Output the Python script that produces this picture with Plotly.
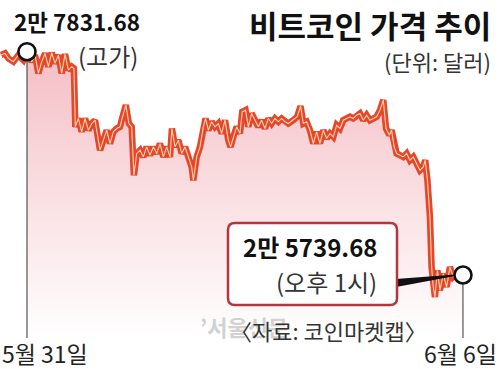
import plotly.graph_objects as go

# Hours relative to 5/31 (marker), bitcoin price in USD
hours = [-9.3, -7.9, -6.7, -4.9, -3.1, -1.3, 0.0,
         1.7, 2.9, 4.1, 5.3, 6.5, 7.7, 8.9, 10.1, 11.3, 12.5, 13.7, 14.9, 16.1, 16.9, 17.4,
         18.5, 19.7, 20.9, 22.1, 23.3, 24.5, 25.3, 26.3, 27.5, 28.7, 29.9, 31.1, 32.3, 33.5, 34.4, 35.6, 36.7, 37.7, 38.5,
         39.5, 40.7, 41.9, 43.1, 44.3, 45.5, 46.7, 47.9, 49.1, 50.3, 51.5, 52.2, 53.3, 54.5, 55.7, 56.9, 58.1, 59.3, 59.9,
         61.1, 62.3, 63.5, 64.3, 65.3, 66.5, 67.7, 68.9, 70.1, 71.3, 72.5, 73.3, 74.3, 75.5, 76.7, 77.5, 78.7, 79.7, 80.9,
         82.1, 83.3, 84.5, 85.7, 86.9, 88.1, 89.3, 90.5, 91.7, 92.9, 94.1, 95.9, 97.3, 98.5, 99.5, 100.7, 101.9, 103.1,
         104.3, 105.5, 106.7, 107.9, 109.1, 110.3, 111.5, 112.7, 113.9, 115.1, 116.3, 117.5, 118.7, 119.9, 121.1, 122.3,
         123.5, 124.7, 125.9, 127.1, 128.3, 129.3, 130.5, 131.3, 132.2, 133.1, 134.3, 135.5, 136.7, 137.9, 139.1, 140.3,
         141.5, 142.7, 143.4, 144.2, 144.8, 145.1, 145.7, 146.3, 146.9, 147.8, 148.7, 149.9, 151.1, 152.3, 153.5, 155.0, 157.0]
prices = [27800, 27816, 27769, 27738, 27800, 27753, 27831.68,
          27738, 27800, 27628, 27738, 27816, 27691, 27822, 27722, 27800, 27628, 27809, 27659, 27691, 27675, 27128,
          27206, 27081, 27206, 27096, 27159, 27190, 27065, 26909, 27003, 27096, 26971, 27081, 27112, 27128, 27222, 27331, 27159, 27128, 26674,
          26878, 26909, 26846, 26940, 26862, 26940, 26878, 26971, 26846, 26940, 26846, 27112, 26940, 27003, 26878, 26940, 26846, 26752, 26627,
          26846, 26940, 27128, 27206, 27096, 27175, 27128, 27159, 27065, 27190, 27003, 26940, 27034, 27128, 27065, 27268, 27284, 27128, 27253,
          27190, 27128, 27190, 27112, 27206, 27159, 27206, 27175, 27206, 27175, 27159, 27190, 27222, 27322, 27159, 27175, 27096, 26971,
          27081, 26971, 27096, 27018, 27065, 27034, 27143, 27112, 27190, 27206, 27222, 27206, 27237, 27253, 27190, 27237,
          27190, 27206, 27222, 27284, 27378, 27112, 27050, 27096, 26940, 26878, 26862, 26846, 26878, 26815, 26846, 26784,
          26721, 26752, 26815, 26627, 26440, 26283, 25814, 25627, 25533, 25783, 25596, 25752, 25627, 25814, 25721, 25752, 25739.68]

high_label = "2만 7831.68"
high_note = "(고가)"
last_label = "2만 5739.68"
last_note = "(오후 1시)"
title = "비트코인 가격 추이"
unit = "(단위: 달러)"
source = "〈자료: 코인마켓캡〉"
watermark = "’서울신문"
start_label = "5월 31일"
end_label = "6월 6일"

W, H = 500, 369
X_RANGE = [-9.72, 170.33]
Y_RANGE = [24859, 28316]
FONT = "Noto Sans CJK KR"


def X(p):
    return p / W


def Y(p):
    return 1 - p / H


def rounded_rect(x0, y0, x1, y1, r):
    pts = [
        ("M", [(x0 + r, y0)]),
        ("L", [(x1 - r, y0)]),
        ("Q", [(x1, y0), (x1, y0 + r)]),
        ("L", [(x1, y1 - r)]),
        ("Q", [(x1, y1), (x1 - r, y1)]),
        ("L", [(x0 + r, y1)]),
        ("Q", [(x0, y1), (x0, y1 - r)]),
        ("L", [(x0, y0 + r)]),
        ("Q", [(x0, y0), (x0 + r, y0)]),
    ]
    s = ""
    for cmd, ps in pts:
        s += cmd + " " + " ".join(f"{X(a):.5f},{Y(b):.5f}" for a, b in ps) + " "
    return s + "Z"


fill_x = [h for h in hours if h >= 0]
fill_y = [p for h, p in zip(hours, prices) if h >= 0]
hi_idx = prices.index(max(prices))

fig = go.Figure()
fig.add_trace(go.Scatter(
    x=fill_x, y=fill_y, mode="lines", line=dict(width=0, color="rgba(0,0,0,0)"),
    fill="tozeroy",
    fillgradient=dict(type="vertical", start=25150, stop=28316,
                      colorscale=[[0, "#ffffff"], [1, "#f2b3ba"]]),
    hoverinfo="skip", showlegend=False))
fig.add_trace(go.Scatter(
    x=hours, y=prices, mode="lines", line=dict(color="#e6462c", width=6.5),
    showlegend=False))
fig.add_trace(go.Scatter(
    x=hours, y=prices, mode="lines", line=dict(color="#fcd6a8", width=1.1),
    showlegend=False))
fig.add_trace(go.Scatter(
    x=[hours[hi_idx], hours[-1]], y=[prices[hi_idx], prices[-1]], mode="markers",
    marker=dict(size=17, color="white", line=dict(color="#111111", width=2.6)),
    showlegend=False))

per_px = (Y_RANGE[1] - Y_RANGE[0]) / H
bottom = Y_RANGE[1] - 338 * per_px
shapes = [
    dict(type="line", xref="x", yref="y", x0=hours[hi_idx], x1=hours[hi_idx],
         y0=prices[hi_idx] - 9 * per_px, y1=bottom, line=dict(color="#333333", width=1)),
    dict(type="line", xref="x", yref="y", x0=hours[-1], x1=hours[-1],
         y0=prices[-1] - 9 * per_px, y1=bottom, line=dict(color="#333333", width=1)),
    dict(type="path", xref="paper", yref="paper",
         path=f"M {X(396):.5f},{Y(279):.5f} L {X(455):.5f},{Y(274.5):.5f} L {X(455):.5f},{Y(276):.5f} L {X(396):.5f},{Y(287):.5f} Z",
         fillcolor="#111111", line=dict(width=0)),
    dict(type="path", xref="paper", yref="paper", path=rounded_rect(228, 223, 397, 305, 7),
         fillcolor="white", line=dict(color="#b3353d", width=2.5)),
]


def ann(text, x, y, xa, size, color="#222222", bold=False, ya="middle"):
    return dict(text=f"<b>{text}</b>" if bold else text, x=X(x), y=Y(y), xref="paper", yref="paper",
                xanchor=xa, yanchor=ya, showarrow=False,
                font=dict(family=FONT, size=size, color=color))


annotations = [
    ann(high_label, 12, 21, "left", 22.5, "#111111", bold=True),
    ann(high_note, 76, 55, "left", 24, "#333333"),
    ann(title, 493, 0, "right", 31, "#111111", bold=True, ya="top"),
    ann(unit, 493, 61, "right", 22, "#333333"),
    ann(last_label, 379, 246, "right", 24, "#111111", bold=True),
    ann(last_note, 379, 281, "right", 24, "#333333"),
    ann(watermark, 198, 326, "left", 22, "#d2d2d2", bold=True),
    ann(source, 228, 330, "left", 22, "#333333"),
    ann(start_label, 0, 353, "left", 23, "#222222"),
    ann(end_label, 499, 353, "right", 23, "#222222"),
]

fig.update_layout(
    width=W, height=H, margin=dict(l=0, r=0, t=0, b=0),
    paper_bgcolor="white", plot_bgcolor="white",
    xaxis=dict(range=X_RANGE, visible=False, fixedrange=True),
    yaxis=dict(range=Y_RANGE, visible=False, fixedrange=True),
    shapes=shapes, annotations=annotations, showlegend=False,
)
fig.write_html("out.html")
